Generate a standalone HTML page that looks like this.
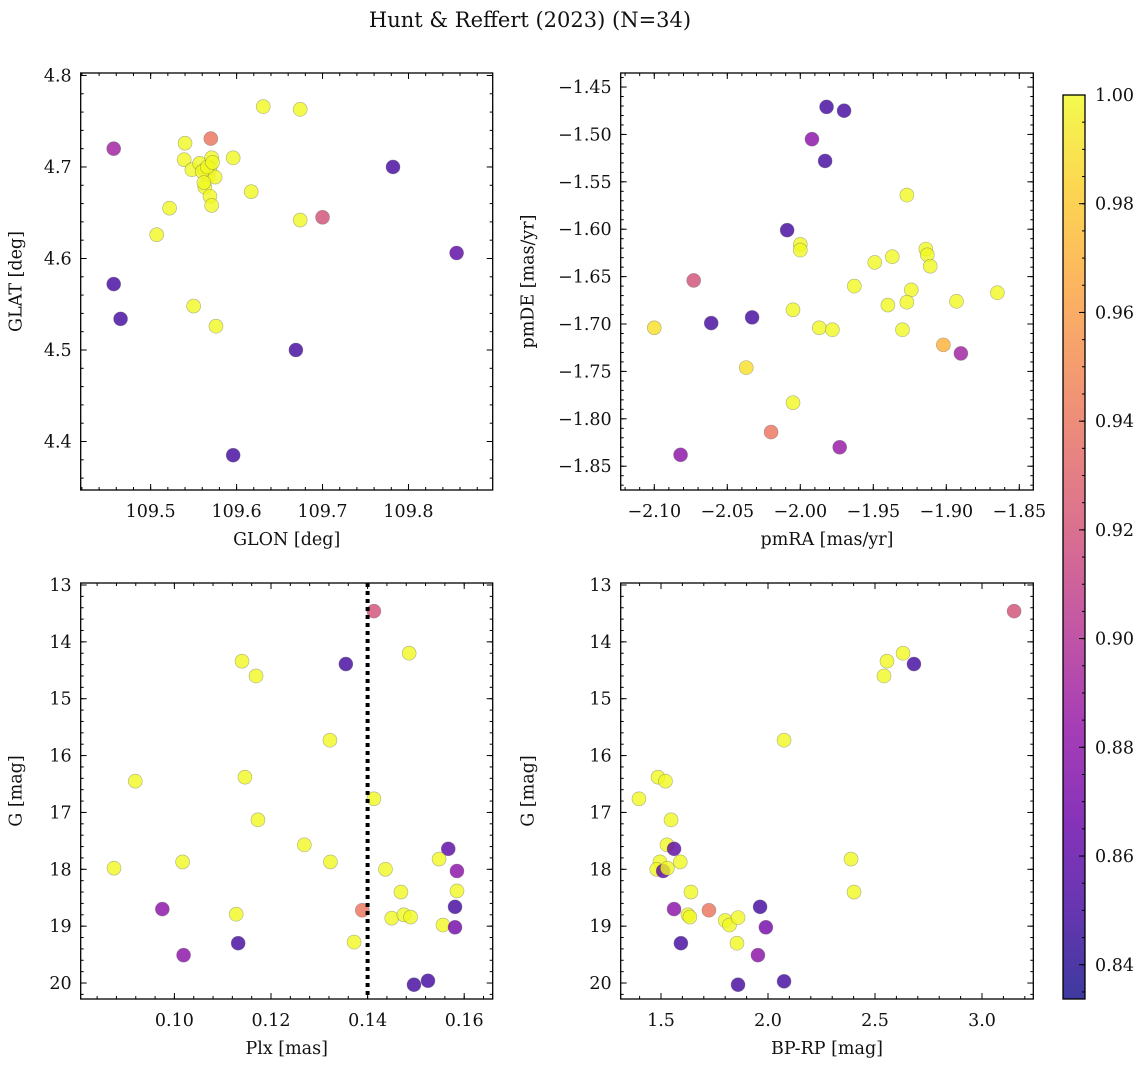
<!DOCTYPE html>
<html><head><meta charset="utf-8"><style>
body{margin:0;background:#fff;}
svg text{font-family:"DejaVu Serif","Liberation Serif",serif;fill:#111;}
</style></head><body>
<svg id="fig" width="1148" height="1067" xmlns="http://www.w3.org/2000/svg">
<defs>
<linearGradient id="cmap" x1="0" y1="1" x2="0" y2="0">
<stop offset="0" stop-color="#3a2ea0"/>
</linearGradient>
</defs>
<text x="530" y="27" text-anchor="middle" font-size="21">Hunt &amp; Reffert (2023) (N=34)</text>
</svg>
<script>
// ---- data: top-left (GLON/GLAT) ----
const glon = [109.457,109.457,109.465,109.507,109.522,109.540,109.539,109.548,109.550,109.557,109.563,109.567,109.563,109.570,109.571,109.569,109.569,109.571,109.575,109.576,109.596,109.617,109.631,109.596,109.669,109.674,109.674,109.700,109.782,109.856,109.560,109.566,109.572,109.562];
const glat = [4.720,4.572,4.534,4.626,4.655,4.726,4.708,4.697,4.548,4.704,4.697,4.690,4.678,4.731,4.710,4.699,4.668,4.658,4.689,4.526,4.710,4.673,4.766,4.385,4.500,4.763,4.642,4.645,4.700,4.606,4.695,4.700,4.705,4.683];
const probA = [0.89,0.85,0.85,1,1,1,1,1,1,1,1,1,1,0.94,1,1,1,1,1,1,1,1,1,0.85,0.85,1,1,0.92,0.85,0.86,1,1,1,1];
// ---- data: top-right (pmRA/pmDE) ----
const pmra = [-1.982,-1.970,-1.992,-1.983,-2.009,-2.000,-2.000,-1.927,-1.949,-1.937,-1.914,-1.913,-1.911,-1.963,-1.940,-1.924,-1.927,-1.865,-1.893,-2.073,-2.061,-2.033,-2.100,-2.005,-1.987,-1.978,-1.930,-1.902,-1.890,-2.037,-2.005,-2.020,-1.973,-2.082];
const pmde = [-1.471,-1.475,-1.505,-1.528,-1.601,-1.616,-1.622,-1.564,-1.635,-1.629,-1.621,-1.627,-1.639,-1.660,-1.680,-1.664,-1.677,-1.667,-1.676,-1.654,-1.699,-1.693,-1.704,-1.685,-1.704,-1.706,-1.706,-1.722,-1.731,-1.746,-1.783,-1.814,-1.830,-1.838];
const probB = [0.85,0.85,0.88,0.85,0.85,1,1,1,1,1,1,1,1,1,1,1,1,1,1,0.92,0.85,0.85,0.99,1,1,1,1,0.97,0.89,0.99,1,0.94,0.885,0.88];
// ---- data: bottom-left (Plx/G) ----
const plx = [0.1413,0.1486,0.1140,0.1355,0.1169,0.1322,0.0919,0.1146,0.1413,0.1173,0.1269,0.1567,0.1548,0.1585,0.1017,0.1323,0.1437,0.0875,0.1585,0.1469,0.0975,0.1389,0.1581,0.1128,0.1450,0.1475,0.1489,0.1556,0.1581,0.1372,0.1132,0.1019,0.1525,0.1496];
const gC = [13.46,14.20,14.34,14.39,14.60,15.73,16.45,16.38,16.76,17.13,17.57,17.64,17.82,18.03,17.87,17.87,18.00,17.98,18.38,18.40,18.70,18.72,18.66,18.79,18.86,18.80,18.84,18.98,19.02,19.28,19.30,19.51,19.96,20.03];
const probC = [0.92,1,1,0.85,1,1,1,1,1,1,1,0.86,1,0.88,1,1,1,1,1,1,0.88,0.94,0.85,1,1,1,1,1,0.87,1,0.85,0.88,0.85,0.85];
const plxCut = [0.14];
// ---- data: bottom-right (BP-RP/G) ----
const bprp = [3.150,2.556,2.631,2.682,2.542,2.075,1.397,1.486,1.521,1.547,1.528,1.561,2.388,1.495,1.480,1.510,1.530,1.590,1.640,2.402,1.561,1.626,1.635,1.724,1.800,1.820,1.860,1.963,1.990,1.855,1.593,1.953,2.075,1.860];
const gD = [13.46,14.34,14.20,14.39,14.60,15.73,16.76,16.38,16.45,17.13,17.57,17.64,17.82,17.87,18.00,18.03,17.98,17.87,18.40,18.40,18.70,18.80,18.84,18.72,18.90,18.98,18.85,18.66,19.02,19.30,19.30,19.51,19.97,20.03];
const probD = [0.92,1,1,0.85,1,1,1,1,1,1,1,0.86,1,1,1,0.86,1,1,1,1,0.88,1,1,0.94,1,1,1,0.85,0.87,1,0.85,0.88,0.85,0.85];
// ---- ticks ----
const ticksA_x = ["109.5","109.6","109.7","109.8"];
const ticksA_y = ["4.4","4.5","4.6","4.7","4.8"];
const ticksB_x = ["−2.10","−2.05","−2.00","−1.95","−1.90","−1.85"];
const ticksB_y = ["−1.85","−1.80","−1.75","−1.70","−1.65","−1.60","−1.55","−1.50","−1.45"];
const ticksC_x = ["0.10","0.12","0.14","0.16"];
const ticksG = ["13","14","15","16","17","18","19","20"];
const ticksD_x = ["1.5","2.0","2.5","3.0"];
const ticksCbar = ["0.84","0.86","0.88","0.90","0.92","0.94","0.96","0.98","1.00"];

const NS="http://www.w3.org/2000/svg";
const FS=17.5;
const svg=document.getElementById('fig');
function mk(tag,attrs,parent){const e=document.createElementNS(NS,tag);for(const k in attrs)e.setAttribute(k,attrs[k]);(parent||svg).appendChild(e);return e;}
const stops=[[0,[13,8,135]],[0.1,[65,4,157]],[0.2,[106,0,168]],[0.3,[143,13,164]],[0.4,[177,42,144]],[0.5,[204,71,120]],[0.6,[225,100,98]],[0.7,[242,132,75]],[0.8,[252,166,54]],[0.9,[252,206,37]],[1,[240,249,33]]];
const CMIN=0.8337,CMAX=1.0;
function cmap(v){let t=(v-CMIN)/(CMAX-CMIN);t=Math.max(0,Math.min(1,t));for(let i=1;i<stops.length;i++){if(t<=stops[i][0]){const a=stops[i-1],b=stops[i];const f=(t-a[0])/(b[0]-a[0]);const c=a[1].map((x,j)=>Math.round(x+(b[1][j]-x)*f));return `rgb(${c[0]},${c[1]},${c[2]})`;}}return 'rgb(240,249,33)';}
function lin(d0,d1,r0,r1){return v=>r0+(v-d0)/(d1-d0)*(r1-r0);}
const num=s=>parseFloat(s.replace('−','-'));

function panel(name,box,xd,yd,xt,yt,xminor,yminor,xlab,ylab,xs,ys,cs,invY){
  const g=mk('g',{});
  
  
  const X=lin(xd[0],xd[1],box.x0,box.x1);
  const Y=invY?lin(yd[0],yd[1],box.y0,box.y1):lin(yd[0],yd[1],box.y1,box.y0);
  const pg=mk('g',{},g);
  
  
  for(let i=0;i<xs.length;i++){
    const c=mk('circle',{cx:X(xs[i]),cy:Y(ys[i]),r:7,fill:cmap(cs[i]),'fill-opacity':0.8,stroke:'#666','stroke-opacity':0.5,'stroke-width':0.6},pg);
    
    
  }
  const fr=mk('rect',{x:box.x0,y:box.y0,width:box.x1-box.x0,height:box.y1-box.y0,fill:'none',stroke:'#000','stroke-width':1.3},g);
  
  
  const tk=mk('g',{stroke:'#000','stroke-width':1},g);
  const xmin=Math.min(xd[0],xd[1]),xmax=Math.max(xd[0],xd[1]);
  for(let v=Math.ceil(xmin/xminor-1e-6)*xminor;v<=xmax+1e-9;v+=xminor){const px=X(v);mk('line',{x1:px,x2:px,y1:box.y1,y2:box.y1-3},tk);mk('line',{x1:px,x2:px,y1:box.y0,y2:box.y0+3},tk);}
  const ymin=Math.min(yd[0],yd[1]),ymax=Math.max(yd[0],yd[1]);
  for(let v=Math.ceil(ymin/yminor-1e-6)*yminor;v<=ymax+1e-9;v+=yminor){const py=Y(v);mk('line',{x1:box.x0,x2:box.x0+3,y1:py,y2:py},tk);mk('line',{x1:box.x1,x2:box.x1-3,y1:py,y2:py},tk);}
  xt.forEach(s=>{const px=X(num(s));mk('line',{x1:px,x2:px,y1:box.y1,y2:box.y1-6},tk);mk('line',{x1:px,x2:px,y1:box.y0,y2:box.y0+6},tk);
    const t=mk('text',{x:px,y:box.y1+27,'text-anchor':'middle','font-size':FS},g);t.textContent=s;
    });
  yt.forEach(s=>{const py=Y(num(s));mk('line',{x1:box.x0,x2:box.x0+6,y1:py,y2:py},tk);mk('line',{x1:box.x1,x2:box.x1-6,y1:py,y2:py},tk);
    const t=mk('text',{x:box.x0-9,y:py+6,'text-anchor':'end','font-size':FS},g);t.textContent=s;
    });
  const xl=mk('text',{x:(box.x0+box.x1)/2,y:box.y1+55,'text-anchor':'middle','font-size':FS},g);xl.textContent=xlab;
  
  const lx=box.x0-(box.x0<300?59:87);
  const yl=mk('text',{x:lx,y:(box.y0+box.y1)/2,'text-anchor':'middle','font-size':FS,transform:`rotate(-90 ${lx} ${(box.y0+box.y1)/2})`},g);yl.textContent=ylab;
  
  return {X,Y,g};
}
const TL={x0:80.7,x1:492.7,y0:73,y1:490},TR={x0:620.7,x1:1033.3,y0:73,y1:490};
const BL={x0:80.7,x1:492.7,y0:583,y1:999},BR={x0:620.7,x1:1033.3,y0:583,y1:999};
panel('glon-glat-panel',TL,[109.4186,109.898],[4.347,4.8027],ticksA_x,ticksA_y,0.02,0.02,'GLON [deg]','GLAT [deg]',glon,glat,probA,false);
panel('pm-panel',TR,[-2.123,-1.8404],[-1.8751,-1.4352],ticksB_x,ticksB_y,0.01,0.01,'pmRA [mas/yr]','pmDE [mas/yr]',pmra,pmde,probB,false);
const pc=panel('plx-g-panel',BL,[0.0806,0.1659],[12.965,20.281],ticksC_x,ticksG,0.004,0.2,'Plx [mas]','G [mag]',plx,gC,probC,true);
panel('cmd-panel',BR,[1.3117,3.2397],[12.965,20.281],ticksD_x,ticksG,0.1,0.2,'BP-RP [mag]','G [mag]',bprp,gD,probD,true);
plxCut.forEach(v=>{const l=mk('line',{x1:pc.X(v),x2:pc.X(v),y1:BL.y0,y2:BL.y1,stroke:'#000','stroke-width':4,'stroke-dasharray':'4,4'});
  });
const grad=document.getElementById('cmap');grad.innerHTML='';
for(let i=0;i<=20;i++){const v=CMIN+(CMAX-CMIN)*i/20;mk('stop',{offset:i/20,'stop-color':cmap(v),'stop-opacity':0.8},grad);}
const CB={x0:1063,x1:1085,y0:95,y1:999};
const CY=lin(CMIN,CMAX,CB.y1,CB.y0);
const cbg=mk('g',{});


mk('rect',{x:CB.x0,y:CB.y0,width:CB.x1-CB.x0,height:CB.y1-CB.y0,fill:'url(#cmap)',stroke:'#000','stroke-width':1.3},cbg);
for(let v=0.835;v<=1.0001;v+=0.005){const py=CY(v);mk('line',{x1:CB.x1,x2:CB.x1-3,y1:py,y2:py,stroke:'#000'},cbg);}
ticksCbar.forEach(s=>{const py=CY(num(s));mk('line',{x1:CB.x1,x2:CB.x1-6,y1:py,y2:py,stroke:'#000'},cbg);
  const t=mk('text',{x:CB.x1+10,y:py+6,'font-size':FS},cbg);t.textContent=s;
  });
</script>
</body></html>
